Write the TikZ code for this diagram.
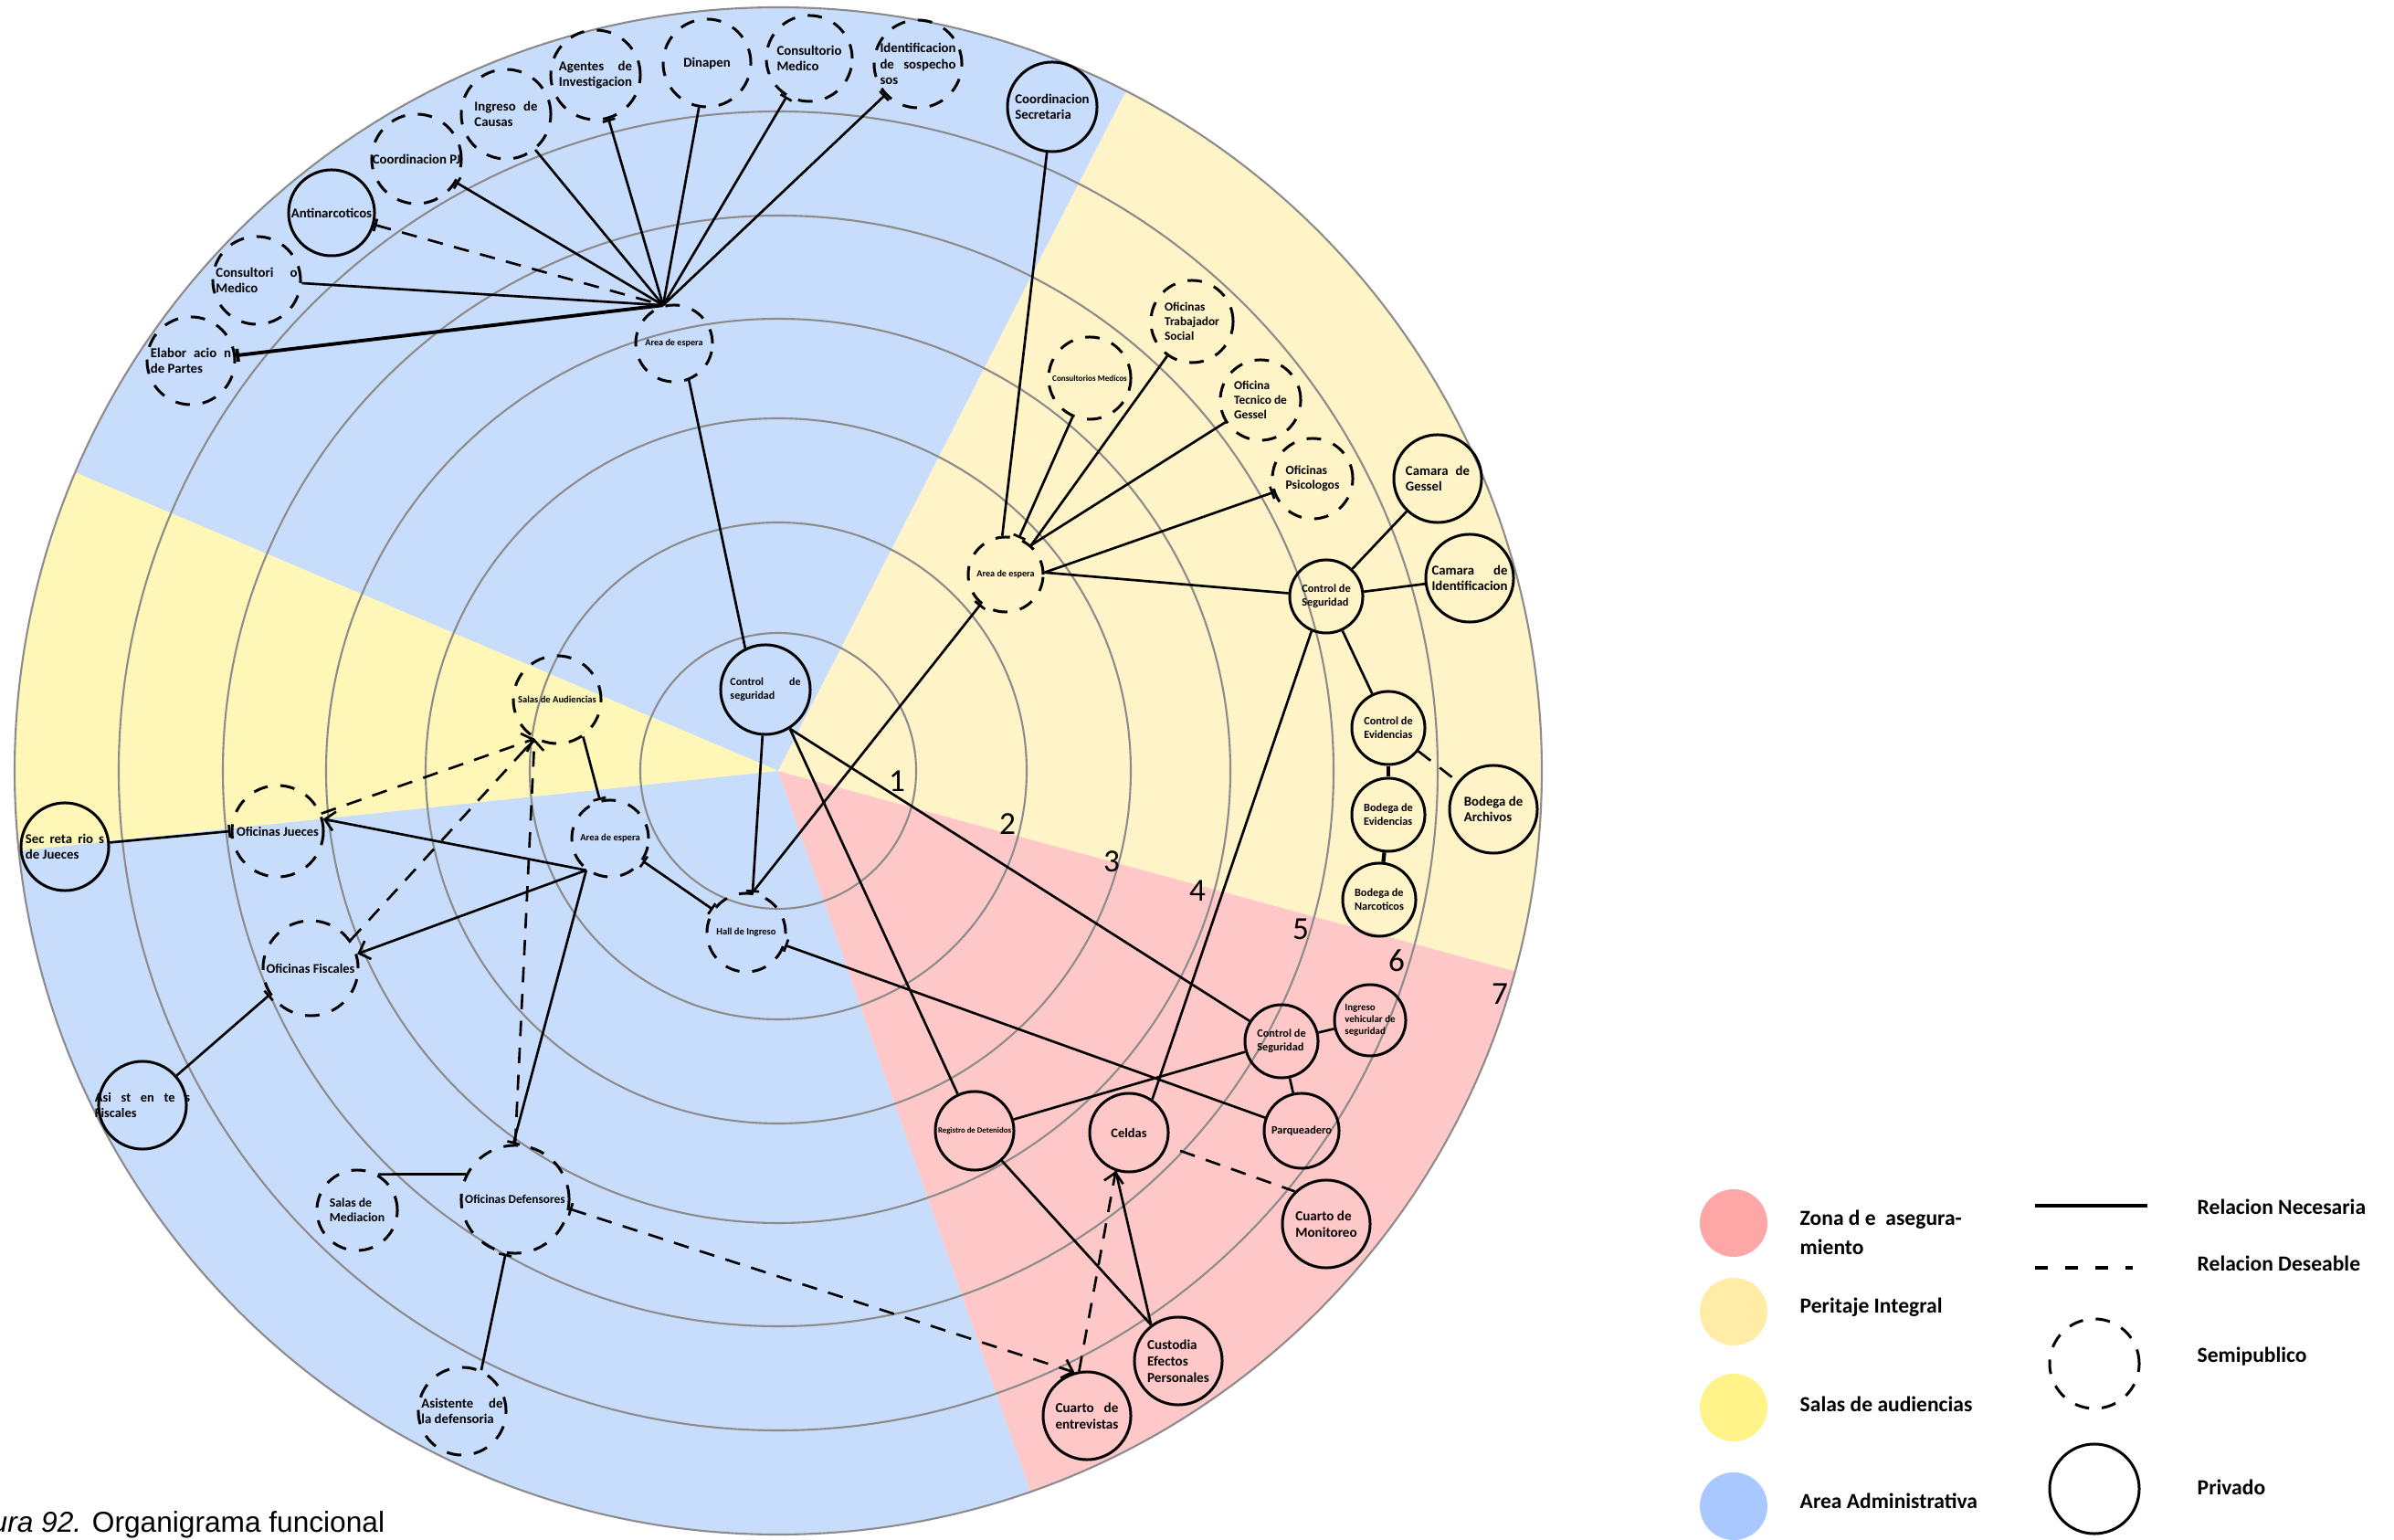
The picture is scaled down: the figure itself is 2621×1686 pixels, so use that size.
\documentclass[tikz,border=0pt]{standalone}
\usepackage{fontspec}
\setmainfont{Carlito}
\newfontfamily\capfont{Liberation Sans}
\usetikzlibrary{arrows.meta}
\definecolor{adminc}{RGB}{200,220,252}
\definecolor{peritc}{RGB}{255,243,200}
\definecolor{salasc}{RGB}{255,247,184}
\definecolor{asegc}{RGB}{255,200,200}
\definecolor{adminl}{RGB}{168,200,255}
\definecolor{peritl}{RGB}{255,236,166}
\definecolor{salasl}{RGB}{255,243,138}
\definecolor{asegl}{RGB}{255,166,166}
\definecolor{ringc}{RGB}{140,140,140}
\newcommand{\fz}[1]{\fontsize{#1}{\dimexpr#1pt*6/5\relax}\selectfont}
\newcommand{\jst}[2]{\setbox0\hbox{#1}\makebox[\wd0][s]{#2}}

\begin{document}
\begin{tikzpicture}[
    x=0.01cm, y=0.01cm,
    semi/.style={circle,draw,line width=0.85pt,dash pattern=on 4.5pt off 4pt,inner sep=0pt,minimum size=#1},
    priv/.style={circle,draw,line width=0.85pt,inner sep=0pt,minimum size=#1},
    every label/.style={align=left,inner sep=0pt,font=\bfseries\fz{4.2}},
    nec/.style={draw,line width=0.75pt},
    des/.style={draw,line width=0.75pt,dash pattern=on 4.8pt off 3.6pt},
    tb/.style={{Bar[width=4pt]}-},
    te/.style={-{Bar[width=4pt]}},
    tbe/.style={{Bar[width=4pt]}-{Bar[width=4pt]}},
    ar/.style={-{Straight Barb[length=3pt,width=6pt]}},
    num/.style={inner sep=0pt,font=\fz{10}},
    leg/.style={anchor=west,align=left,inner sep=0pt,font=\bfseries\fz{6.7}}
]
\path[use as bounding box] (0,0) rectangle (2621,-1686);
\coordinate (c) at (852,-844);
\foreach \a/\b/\col in {62.9/157/adminc,157/186/salasc,186/289.3/adminc,289.3/344.8/asegc,344.8/422.9/peritc}
    \fill[\col] (c) -- ++(\a:836) arc[start angle=\a,end angle=\b,radius=836] -- cycle;
\foreach \r in {151,272,386,495,608,722,836}
    \draw[ringc,line width=0.6pt] (c) circle[radius=\r];

\node[semi=.96cm,label={center:{Identificacion\\\jst{Identificacion}{de sospecho}\\sos}}] (idsos) at (1005,-70) {};
\node[semi=.94cm,label={center:{Consultorio\\Medico}}] (consm1) at (886,-64) {};
\node[semi=.96cm,label={center:Dinapen}] (dinap) at (774,-69) {};
\node[semi=.98cm,label={center:{\jst{Investigacion}{Agentes de}\\Investigacion}}] (agent) at (652,-82) {};
\node[semi=.98cm,label={center:{\makebox[.69cm][s]{Ingreso de}\\Causas}}] (ingca) at (554,-125) {};
\node[semi=.98cm,label={center:Coordinacion PJ}] (coopj) at (456,-174) {};
\node[priv=.94cm,label={center:Antinarcoticos}] (antin) at (363,-233) {};
\node[semi=.96cm,label={center:{\makebox[.89cm][s]{Consultori o}\\Medico}}] (consm2) at (281,-307) {};
\node[semi=.96cm,label={center:{\makebox[.88cm][s]{Elabor acio n}\\de Partes}}] (elabp) at (209,-395) {};
\node[semi=.84cm,label={[font=\bfseries\fz{2.9}]center:Area de espera}] (esp1) at (738,-376) {};
\node[priv=.98cm,label={center:{Coordinacion\\Secretaria}}] (csec) at (1152,-117) {};

\node[priv=.98cm,label={[font=\bfseries\fz{3.4}]center:{\makebox[.77cm][s]{Control de}\\seguridad}}] (ctrl) at (838,-755) {};
\node[semi=.96cm,label={[font=\bfseries\fz{3}]center:Salas de Audiencias}] (salas) at (610,-766) {};
\node[semi=.84cm,label={[font=\bfseries\fz{3}]center:Area de espera}] (esp2) at (668,-918) {};
\node[semi=.86cm,label={[font=\bfseries\fz{3}]center:Hall de Ingreso}] (hall) at (817,-1021) {};
\node[priv=.96cm,label={center:{\makebox[.86cm][s]{Sec reta rio s}\\de Jueces}}] (secj) at (71,-927) {};
\node[semi=1cm,label={[font=\bfseries\fz{4.1}]center:Oficinas Jueces}] (ofju) at (304,-910) {};
\node[semi=1.04cm,label={[font=\bfseries\fz{4.1}]center:Oficinas Fiscales}] (ofis) at (340,-1060) {};
\node[priv=.96cm,label={[font=\bfseries\fz{4.1}]center:{\makebox[1.04cm][s]{Asi st en te s}\\Fiscales}}] (asfis) at (156,-1210) {};
\node[semi=1.18cm,label={[font=\bfseries\fz{3.8}]center:Oficinas Defensores}] (ofdef) at (564,-1313) {};
\node[semi=.88cm,label={[font=\bfseries\fz{3.9}]center:{Salas de\\Mediacion}}] (medi) at (391,-1325) {};
\node[semi=.96cm,label={center:{\makebox[.89cm][s]{Asistente de}\\la defensoria}}] (asdef) at (506,-1545) {};

\node[semi=.82cm,label={[font=\bfseries\fz{2.9}]center:Area de espera}] (esp3) at (1101,-629) {};
\node[semi=.9cm,label={[font=\bfseries\fz{2.6}]center:Consultorios Medicos}] (consm3) at (1193,-414) {};
\node[semi=.9cm,label={[font=\bfseries\fz{3.8}]center:{Oficinas\\Trabajador\\Social}}] (trab) at (1305,-352) {};
\node[semi=.88cm,label={[font=\bfseries\fz{3.8}]center:{Oficina\\Tecnico de\\Gessel}}] (tgess) at (1380,-438) {};
\node[semi=.88cm,label={[font=\bfseries\fz{3.9}]center:{Oficinas\\Psicologos}}] (psico) at (1437,-524) {};
\node[priv=.96cm,label={center:{\makebox[.70cm][s]{Camara de}\\Gessel}}] (cgess) at (1574,-524) {};
\node[priv=.96cm,label={center:{\jst{Identificacion}{Camara de}\\Identificacion}}] (cident) at (1609,-633) {};
\node[priv=.8cm,label={[font=\bfseries\fz{3.5}]center:{Control de\\Seguridad}}] (cseg1) at (1452,-653) {};
\node[priv=.8cm,label={[font=\bfseries\fz{3.5}]center:{Control de\\Evidencias}}] (cevid) at (1520,-797) {};
\node[priv=.8cm,label={[font=\bfseries\fz{3.5}]center:{Bodega de\\Evidencias}}] (bevid) at (1520,-892) {};
\node[priv=.8cm,label={[font=\bfseries\fz{3.5}]center:{Bodega de\\Narcoticos}}] (bnarc) at (1510,-985) {};
\node[priv=.96cm,label={center:{Bodega de\\Archivos}}] (barch) at (1635,-886) {};

\node[priv=.8cm,label={[font=\bfseries\fz{3.5}]center:{Control de\\Seguridad}}] (cseg2) at (1403,-1140) {};
\node[priv=.78cm,label={[font=\bfseries\fz{3.1}]center:{Ingreso\\vehicular de\\seguridad}}] (ingveh) at (1500,-1117) {};
\node[priv=.86cm,label={[font=\bfseries\fz{2.5}]center:Registro de Detenidos}] (regdet) at (1067,-1238) {};
\node[priv=.86cm,label={[font=\bfseries\fz{4.1}]center:Celdas}] (celdas) at (1236,-1240) {};
\node[priv=.82cm,label={[font=\bfseries\fz{3.5}]center:Parqueadero}] (parq) at (1425,-1238) {};
\node[priv=.96cm,label={[font=\bfseries\fz{4.3}]center:{Cuarto de\\Monitoreo}}] (cmonit) at (1452,-1340) {};
\node[priv=.96cm,label={[font=\bfseries\fz{4.3}]center:{Custodia\\Efectos\\Personales}}] (custod) at (1290,-1490) {};
\node[priv=.96cm,label={[font=\bfseries\fz{4.3}]center:{\jst{entrevistas}{Cuarto de}\\entrevistas}}] (centr) at (1190,-1550) {};

\draw[nec,tb] (idsos) -- (esp1.106);
\draw[nec,tb] (consm1) -- (esp1.106);
\draw[nec] (dinap) -- (esp1.106);
\draw[nec,tb] (agent) -- (esp1.106);
\draw[nec] (ingca) -- (esp1.106);
\draw[nec,tb] (coopj) -- (esp1.106);
\draw[des,tb] (antin) -- (esp1.106);
\draw[nec] (consm2) -- (esp1.106);
\draw[nec,tb,line width=1.1pt] (elabp) -- (esp1.106);
\draw[nec] (esp1.-68) -- (ctrl.116);

\draw[nec,te] (ctrl) -- (hall.81);
\draw[nec] (ctrl.-58) -- (regdet);
\draw[nec] (ctrl.-58) -- (cseg2);
\draw[nec,te] (hall.81) -- (esp3.230);
\draw[nec,tb] (hall.-18) -- (parq);
\draw[nec,tbe] (esp2) -- (hall);
\draw[nec,te] (salas.-55) -- (esp2.105);
\draw[nec,ar] (esp2.233) -- (ofju.15);
\draw[nec,ar] (esp2.233) -- (ofis.17);
\draw[nec,te] (esp2.233) -- (ofdef.92);
\draw[nec,te] (secj) -- (ofju.180);
\draw[nec,te] (asfis) -- (ofis.213);
\draw[des,ar] (ofju.22) -- (salas.240);
\draw[des] (ofis.35) -- (salas.240);
\draw[des,ar] (ofdef.90) -- (salas.240);
\draw[nec] (medi.60) -- (ofdef.153);
\draw[nec,te] (asdef.65) -- (ofdef.260);
\draw[des,{Bar[width=4pt]}-{Straight Barb[length=3pt,width=6pt]}] (ofdef.-10) -- (centr.106);
\draw[des,ar] (centr.100) -- (celdas.251);

\draw[nec] (regdet) -- (custod.127);
\draw[nec] (celdas.251) -- (custod.127);
\draw[nec] (regdet) -- (cseg2);
\draw[nec] (celdas.55) -- (cseg1.247);
\draw[nec] (cseg2) -- (ingveh);
\draw[nec] (cseg2) -- (parq);
\draw[des,shorten <=0.15cm] (celdas) -- (cmonit.134);

\draw[nec] (csec) -- (esp3.95);
\draw[nec,te] (consm3) -- (esp3.70);
\draw[nec] (trab) -- (esp3.49);
\draw[nec] (tgess) -- (esp3.49);
\draw[nec,tb] (psico) -- (esp3.3);
\draw[nec] (esp3.3) -- (cseg1);
\draw[nec] (cseg1) -- (cgess);
\draw[nec] (cseg1) -- (cident);
\draw[nec] (cseg1) -- (cevid);
\draw[nec,line width=1.2pt] (cevid) -- (bevid);
\draw[nec,line width=1.2pt] (bevid) -- (bnarc);
\draw[des] (cevid) -- (barch);

\foreach \n/\x/\y in {1/982/855,2/1103/902,3/1217/943,4/1311/975,5/1424/1017,6/1529/1052,7/1642/1088}
    \node[num] (n\n) at (\x,-\y) {\n};

\node[circle,fill=asegl,minimum size=.74cm,inner sep=0pt] (lz) at (1898,-1339) {};
\node[circle,fill=peritl,minimum size=.74cm,inner sep=0pt] (lp) at (1898,-1436) {};
\node[circle,fill=salasl,minimum size=.74cm,inner sep=0pt] (ls) at (1898,-1541) {};
\node[circle,fill=adminl,minimum size=.74cm,inner sep=0pt] (la) at (1898,-1649) {};
\node[leg] (lzt) at (1970,-1349) {Zona d e~~asegura-\\[1pt]miento};
\node[leg] (lpt) at (1970,-1431) {Peritaje Integral};
\node[leg] (lst) at (1970,-1537) {Salas de audiencias};
\node[leg] (lat) at (1970,-1643) {Area Administrativa};
\coordinate (ln1) at (2228,-1320);
\coordinate (ln2) at (2351,-1320);
\draw[nec,line width=1.1pt] (ln1) -- (ln2);
\coordinate (ld1) at (2228,-1388);
\coordinate (ld2) at (2335,-1388);
\draw[des,line width=1.1pt,dash pattern=on 4pt off 5.4pt] (ld1) -- (ld2);
\node[leg] (lnt) at (2405,-1321) {Relacion Necesaria};
\node[leg] (ldt) at (2405,-1383) {Relacion Deseable};
\node[semi=.98cm] (lsemi) at (2293,-1493) {};
\node[leg] (lsmt) at (2405,-1485) {Semipublico};
\node[priv=.98cm] (lpriv) at (2293,-1630) {};
\node[leg] (lprt) at (2405,-1628) {Privado};

\begin{scope}
\clip (0,0) rectangle (2621,-1686);
\node[anchor=base west,inner sep=0pt,font=\capfont\fz{9}] (cap) at (-54,-1677) {\textit{Figura 92.} Organigrama funcional};
\end{scope}
\end{tikzpicture}
\end{document}
